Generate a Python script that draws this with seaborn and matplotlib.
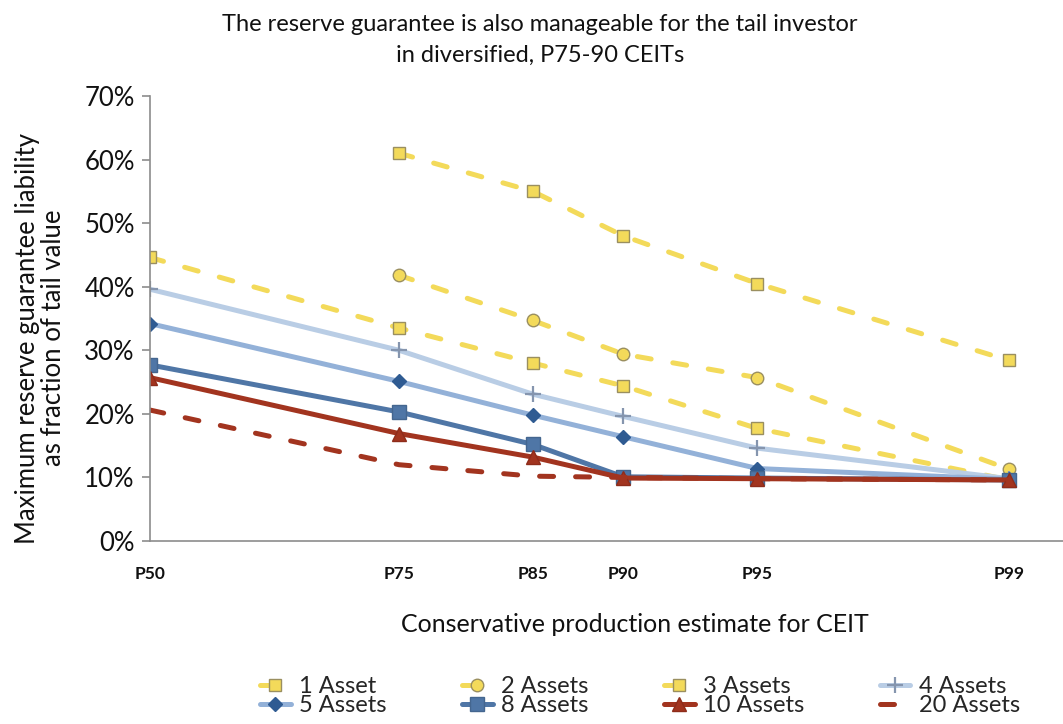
import numpy as np
import pandas as pd
import matplotlib
matplotlib.use("Agg")
import matplotlib.pyplot as plt
import seaborn as sns
from statistics import NormalDist

# ---------------- data ----------------
percentiles = [50, 75, 85, 90, 95, 99]
tick_labels = ["P50", "P75", "P85", "P90", "P95", "P99"]
series_names = ["1 Asset", "2 Assets", "3 Assets", "4 Assets",
                "5 Assets", "8 Assets", "10 Assets", "20 Assets"]
asset_1 = [np.nan, 61.0, 55.0, 48.0, 40.5, 28.4]
asset_2 = [np.nan, 41.8, 34.7, 29.4, 25.7, 11.3]
asset_3 = [44.6, 33.5, 28.0, 24.4, 17.7, 9.6]
asset_4 = [39.6, 30.0, 23.1, 19.6, 14.6, 9.8]
asset_5 = [34.2, 25.1, 19.8, 16.4, 11.4, 9.7]
asset_8 = [27.7, 20.3, 15.2, 10.1, 9.9, 9.6]
asset_10 = [25.7, 16.9, 13.2, 9.9, 9.8, 9.6]
asset_20 = [20.6, 12.0, 10.2, 10.0, 9.8, 9.6]
all_values = [asset_1, asset_2, asset_3, asset_4, asset_5, asset_8, asset_10, asset_20]

# x axis is the normal quantile of each percentile
x_pos = [NormalDist().inv_cdf(p / 100) for p in percentiles]

rows = []
for name, vals in zip(series_names, all_values):
    for xp, v in zip(x_pos, vals):
        if not np.isnan(v):
            rows.append({"series": name, "x": xp, "value": v / 100})
df = pd.DataFrame(rows)

# ---------------- styles ----------------
YEL = "#F3DA5A"
YEL_EDGE = "#9A8F60"
styles = {
    "1 Asset":  dict(color=YEL, dashed=True, marker="s", mfc=YEL, mec=YEL_EDGE, ms=9),
    "2 Assets": dict(color=YEL, dashed=True, marker="o", mfc=YEL, mec=YEL_EDGE, ms=9),
    "3 Assets": dict(color=YEL, dashed=True, marker="s", mfc=YEL, mec=YEL_EDGE, ms=9),
    "4 Assets": dict(color="#B9CDE5", dashed=False, marker="+", mfc="#8595AE", mec="#8595AE", ms=11),
    "5 Assets": dict(color="#93B1D8", dashed=False, marker="D", mfc="#2F5B92", mec="#2F5B92", ms=7.5),
    "8 Assets": dict(color="#4F76A6", dashed=False, marker="s", mfc="#4F76A6", mec="#44668F", ms=10),
    "10 Assets": dict(color="#A2341F", dashed=False, marker="^", mfc="#A2341F", mec="#8E2C1A", ms=9.5),
    "20 Assets": dict(color="#A2341F", dashed=True, marker=None, mfc=None, mec=None, ms=0),
}

sns.set_theme(style="white")
plt.rcParams["font.family"] = ["Lato", "DejaVu Sans"]

fig = plt.figure(figsize=(10.63, 7.24), dpi=100)
ax = fig.add_axes([150 / 1063, 1 - 541 / 724, 1 - 150 / 1063, (541 - 96) / 724])

for name in series_names:
    st = styles[name]
    sub = df[df["series"] == name]
    kw = dict(lw=3.6, solid_capstyle="round", dash_capstyle="round")
    if st["marker"] is not None:
        kw.update(marker=st["marker"], markerfacecolor=st["mfc"],
                  markeredgecolor=st["mec"], markersize=st["ms"], markeredgewidth=1.0)
        if st["marker"] == "+":
            kw.update(markeredgewidth=1.6)
    if st["dashed"]:
        kw.update(dashes=(2.8, 4.4))
    sns.lineplot(data=sub, x="x", y="value", ax=ax, color=st["color"],
                 label=name, sort=False, **kw)

# ---------------- axes ----------------
ax.set_xlim(0, 913 / (859 / x_pos[-1]))
ax.set_ylim(0, 0.70)
ax.set_yticks(np.arange(0, 0.71, 0.10))
ax.set_yticklabels([f"{int(round(t * 100))}%" for t in np.arange(0, 0.71, 0.10)])
ax.set_xticks(x_pos)
ax.set_xticklabels(tick_labels, fontweight="bold", fontsize=12.5)
for s in ["top", "right"]:
    ax.spines[s].set_visible(False)
for s in ["left", "bottom"]:
    ax.spines[s].set_color("#8C8C8C")
    ax.spines[s].set_linewidth(1.2)
ax.tick_params(axis="y", which="major", left=True, length=6, width=1.2,
               color="#8C8C8C", labelsize=18.5, pad=5, labelcolor="#111111")
ax.tick_params(axis="x", which="major", bottom=False, length=0, pad=18, labelcolor="#111111")
ax.grid(False)

ax.set_xlabel("Conservative production estimate for CEIT", fontsize=18, color="#111111")
ax.xaxis.set_label_coords((635 - 150) / 913, -(625 - 541) / 445)
ax.xaxis.label.set_va("center")
ax.set_ylabel("Maximum reserve guarantee liability\nas fraction of tail value",
              fontsize=18.5, color="#111111", linespacing=1.05)
ax.yaxis.set_label_coords(-(150 - 66) / 913, (541 - 338) / 445)

fig.text(540 / 1063, 1 - 40 / 724,
         "The reserve guarantee is also manageable for the tail investor\nin diversified, P75-90 CEITs",
         ha="center", va="center", fontsize=17, color="#111111", linespacing=1.55)

# ---------------- legend (row-major order) ----------------
handles, labels = ax.get_legend_handles_labels()
order = [0, 4, 1, 5, 2, 6, 3, 7]
leg = ax.legend([handles[i] for i in order], [labels[i] for i in order],
                ncol=4, loc="upper left", bbox_to_anchor=(260 / 1063, 1 - 676 / 724),
                bbox_transform=fig.transFigure, frameon=False, fontsize=17,
                handlelength=1.3, handletextpad=0.35, columnspacing=3.2,
                labelspacing=-0.08, borderpad=0, borderaxespad=0)

fig.savefig("out.png", dpi=100)
